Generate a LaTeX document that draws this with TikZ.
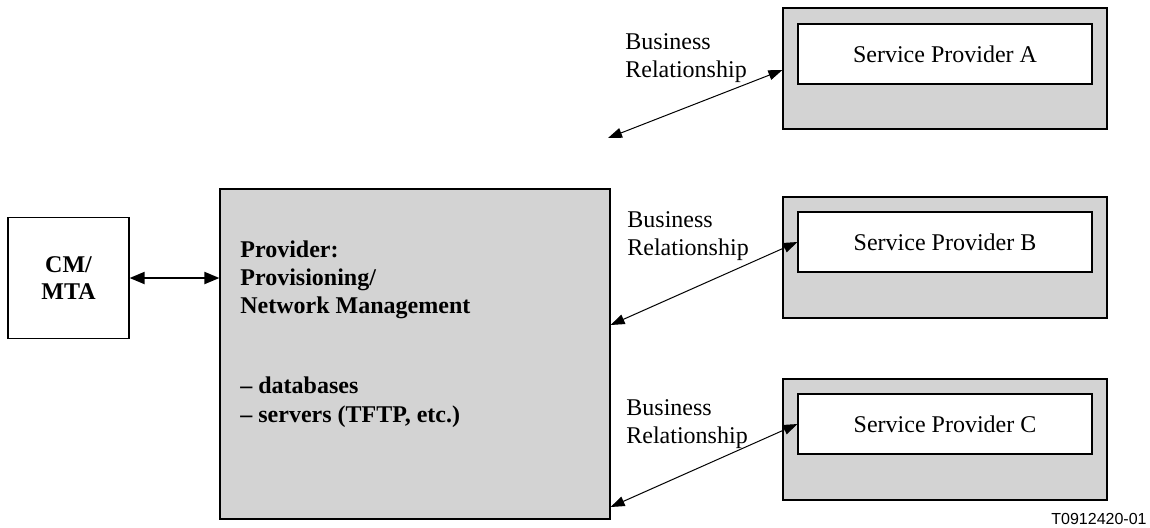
\documentclass[tikz,border=0pt]{standalone}
\usepackage{fontspec}
\setmainfont{Liberation Serif}
\newfontfamily\tagfont{Liberation Sans}
\usetikzlibrary{arrows.meta}
\definecolor{boxgray}{RGB}{211,211,211}
\tikzset{
  outerbox/.style={rectangle, draw=black, fill=boxgray, line width=0.6pt,
    minimum width=162pt, minimum height=60.5pt, inner sep=0pt},
  innerbox/.style={rectangle, draw=black, fill=white, line width=0.6pt,
    minimum width=147pt, minimum height=30pt, inner sep=0pt},
  bizlabel/.style={anchor=base west, align=left, inner sep=0pt},
  bizarrow/.style={line width=0.5pt, {Triangle[length=7pt,width=5pt]}-{Triangle[length=7pt,width=5pt]}},
}
\begin{document}
\begin{tikzpicture}[x=0.5pt, y=-0.5pt, font=\fontsize{12}{14}\selectfont]
  \useasboundingbox (0,0) rectangle (1150,527);

  % left side
  \node[rectangle, draw=black, line width=0.6pt, minimum width=60.5pt, minimum height=60.5pt,
    align=center, font=\fontsize{12}{13.5}\selectfont\bfseries] (cmta) at (68.5,278) {CM/\\MTA};
  \node[rectangle, draw=black, fill=boxgray, line width=0.6pt, minimum width=195pt,
    minimum height=165pt] (prov) at (415,354) {};
  % base anchor sits on the last line
  \node[bizlabel, font=\fontsize{12}{14}\selectfont\bfseries] (provtitle) at (240,313)
    {Provider:\\Provisioning/\\Network Management};
  \node[bizlabel, font=\fontsize{12}{14.5}\selectfont\bfseries] (provlist) at (240,422)
    {-- databases\\-- servers (TFTP, etc.)};
  \draw[line width=1pt, {Triangle[length=7.5pt,width=6pt]}-{Triangle[length=7.5pt,width=6pt]}]
    (cmta.east) -- (cmta.east -| prov.west);

  % service providers
  \node[outerbox] (spa) at (945,68.5) {};
  \node[innerbox] (spain) at (945,54) {Service Provider A};
  \node[outerbox] (spb) at (945,257.5) {};
  \node[innerbox] (spbin) at (945,242) {Service Provider B};
  \node[outerbox] (spc) at (945,439.5) {};
  \node[innerbox] (spcin) at (945,424) {Service Provider C};

  % business relationships
  \node[bizlabel] (bra) at (625,77) {Business\\Relationship};
  \node[bizlabel] (brb) at (627,255) {Business\\Relationship};
  \node[bizlabel] (brc) at (626,443) {Business\\Relationship};
  \coordinate (afree) at (608,138);
  \draw[bizarrow] (afree) -- ([yshift=-0.75pt]spa.west);
  \draw[bizarrow] ([yshift=14.5pt]prov.east) -- (spbin.west);
  \draw[bizarrow] ([yshift=-76.5pt]prov.east) -- (spcin.west);

  \node[anchor=base east, inner sep=0pt, font=\tagfont\fontsize{8}{9}\selectfont] (tag) at (1147,524) {T0912420-01};
\end{tikzpicture}
\end{document}
